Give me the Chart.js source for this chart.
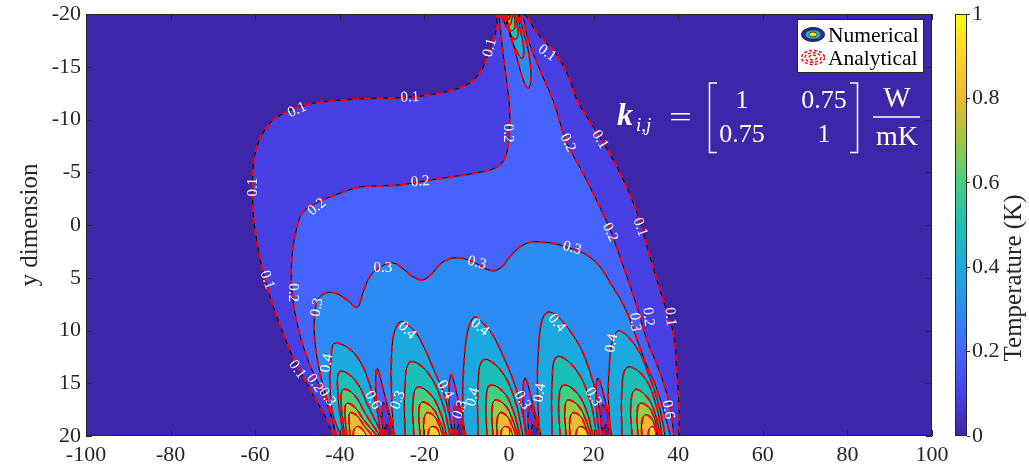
<!DOCTYPE html>
<html><head><meta charset="utf-8">
<script src="https://cdn.jsdelivr.net/npm/chart.js@4.4.1/dist/chart.umd.min.js"></script>
<style>
html,body{margin:0;padding:0;background:#fff;}
body{width:1029px;height:474px;overflow:hidden;position:relative;}
#main{position:absolute;left:0;top:0;}
#cb{position:absolute;left:940px;top:0;}
#over{position:absolute;left:0;top:0;pointer-events:none;}
</style></head><body>
<canvas id="main" width="1029" height="474"></canvas>
<canvas id="cb" width="89" height="474"></canvas>
<svg id="over" width="1029" height="474" font-family="Liberation Serif">
  <rect x="797.5" y="19.5" width="126" height="53" fill="#fff" stroke="#262626" stroke-width="1"/>
  <ellipse cx="813" cy="34.5" rx="11.5" ry="7" fill="#3E26A8" stroke="#000" stroke-width="0.8"/>
  <ellipse cx="813" cy="34.5" rx="8" ry="4.8" fill="#1DB4C8" stroke="#000" stroke-width="0.6"/>
  <ellipse cx="813" cy="34.5" rx="4" ry="2.4" fill="#F9E020" stroke="#000" stroke-width="0.6"/>
  <g fill="none" stroke="#ff0000" stroke-width="1.4" stroke-dasharray="3 2">
    <ellipse cx="813" cy="57.5" rx="11.5" ry="7"/>
    <ellipse cx="813" cy="57.5" rx="8" ry="4.8"/>
    <ellipse cx="813" cy="57.5" rx="4" ry="2.4"/>
  </g>
  <text x="828" y="42" font-size="21.5" fill="#000">Numerical</text>
  <text x="828" y="65" font-size="21.5" fill="#000">Analytical</text>
  <g fill="#fff">
    <text x="617" y="125" font-size="32" font-weight="bold" font-style="italic">k</text>
    <text x="636" y="131" font-size="19" font-style="italic">i,j</text>
    <text x="669" y="126" font-size="27" textLength="23" lengthAdjust="spacingAndGlyphs">=</text>
    <text x="742" y="108" text-anchor="middle" font-size="26">1</text>
    <text x="824" y="108" text-anchor="middle" font-size="26">0.75</text>
    <text x="742" y="142" text-anchor="middle" font-size="26">0.75</text>
    <text x="824" y="142" text-anchor="middle" font-size="26">1</text>
    <text x="897" y="107" text-anchor="middle" font-size="29">W</text>
    <text x="897" y="145" text-anchor="middle" font-size="28">mK</text>
  </g>
  <path d="M717,83 H709.5 V152.5 H717 M850,83 H857.5 V152.5 H850" stroke="#fff" stroke-width="1.5" fill="none"/>
  <line x1="873" y1="117" x2="920" y2="117" stroke="#fff" stroke-width="1.3"/>
  <text transform="translate(1021,278) rotate(-90)" text-anchor="middle" font-size="25" fill="#262626">Temperature (K)</text>
</svg>
<script>
// ---------- axes / ticks ----------
const xTickValues = [-100,-80,-60,-40,-20,0,20,40,60,80,100];
const yTickValues = [-20,-15,-10,-5,0,5,10,15,20];
const colorbarTicks = [0,0.2,0.4,0.6,0.8,1];
const contourLevels = [0,0.1,0.2,0.3,0.4,0.5,0.6,0.7,0.8,0.9];
const levelColors = ['#3E26A8','#4741E5','#4563FD','#2D8CF3','#1CA9DF','#19BFB6','#4ACB84','#9DC943','#F0BA36','#FAD62D'];
const parulaStops = ['#3E26A8','#4743E6','#4466FD','#2D8CF3','#1BAADE','#1EC0B2','#48CB86','#9FC841','#EABA30','#FAD42E','#F9FB14'];

// ---------- iso-contours (x, y) ----------
const iso01 = [[-41.6,20],[-43.0,18.5],[-47.0,15.6],[-51.1,12.5],[-53.4,10.2],[-56.0,7.4],[-58.4,4.0],[-60.0,0.5],[-60.5,-1.4],[-60.5,-5.2],[-59.6,-7.4],[-57.2,-9.3],[-54.1,-10.4],[-47.8,-11.4],[-40.7,-11.8],[-32.2,-12.0],[-24.1,-12.1],[-16.3,-12.5],[-9.9,-13.3],[-6.9,-14.4],[-5.2,-15.9],[-4.0,-17.3],[-2.8,-18.8],[-2.6,-20],[3.3,-20],[6.6,-18.2],[10.9,-16.3],[13.9,-14.2],[16.1,-11.8],[19.9,-9.3],[25.5,-5.5],[30.3,-1.1],[33.3,3.0],[36.4,7.1],[38.8,10.2],[39.7,14.0],[40.2,17.5],[40.2,20]];
const iso02 = [[-40.9,20],[-42.3,17.8],[-44.7,15.4],[-47.8,12.5],[-50.1,9.3],[-51.3,6.2],[-51.3,3.0],[-50.1,0.2],[-48.7,-1.2],[-45.4,-2.1],[-40.0,-3.0],[-35.2,-3.6],[-30.5,-3.7],[-25.8,-3.8],[-21.0,-4.1],[-14.7,-4.5],[-6.9,-5.0],[-2.8,-5.5],[-0.9,-6.4],[0,-8.3],[0.2,-10.2],[-0.2,-12.5],[-0.9,-14.7],[-1.7,-17.3],[-2.1,-19.1],[-2.1,-20],[2.6,-20],[4.5,-17.6],[7.3,-14.7],[10.4,-11.8],[13.7,-7.8],[17.5,-4.9],[23.2,-0.2],[26.2,3.0],[30.3,7.8],[32.6,10.9],[35.7,14.0],[38.1,17.3],[39.0,20]];
const iso03 = [[-40.7,20],[-41.4,19.0],[-43.0,16.6],[-44.7,14.0],[-45.9,10.9],[-45.9,8.3],[-44.7,6.8],[-41.6,6.4],[-38.3,7.1],[-35.9,7.8],[-34.5,6.4],[-32.9,4.9],[-30.5,4.0],[-27.4,3.6],[-24.6,4.3],[-22.7,4.9],[-20.3,5.2],[-18.0,4.5],[-15.6,3.5],[-12.3,3.1],[-8.5,3.5],[-4.5,4.3],[-2.1,4.1],[0.9,2.7],[3.8,1.8],[7.3,1.6],[13.7,2.1],[19.9,3.3],[24.6,5.9],[27.9,8.3],[30.3,10.9],[32.6,13.3],[35.0,15.6],[37.4,18.8],[38.1,20]];

// top heat source
const top03 = [[-0.9,-20],[0.7,-17.6],[2.1,-15.5],[3.8,-13.3],[4.7,-13.0],[5.2,-14.2],[4.5,-16.6],[3.1,-18.8],[2.4,-20]];
const top04 = [[-0.5,-20],[0.2,-18.0],[1.9,-16.4],[3.1,-15.8],[3.5,-16.7],[2.6,-18.7],[2.1,-20]];
const top05 = [[-1.0,-20],[-0.2,-18.6],[1.2,-17.6],[2.1,-17.9],[1.9,-19.1],[1.6,-20]];
const top06 = [[-1.4,-20],[-0.9,-19.0],[0.5,-18.4],[1.4,-18.8],[1.2,-20]];
const top07 = [[-1.9,-20],[-1.2,-19.3],[0.2,-19.0],[0.9,-20]];
const top08 = [[-2.1,-20],[-1.4,-19.6],[-0.2,-19.5],[0.5,-20]];
const top09 = [[-1.9,-20],[-1.2,-19.8],[-0.2,-19.8],[0.0,-20]];

// bottom heat sources (lobes 0.4 ... 0.9)
const s1_04 = [[-39.7,20],[-41.6,18.0],[-42.3,15.2],[-42.1,12.8],[-41.1,11.2],[-35.9,12.5],[-31.7,16.6],[-28.8,20]];
const s1_05 = [[-39.2,20],[-40.4,16.1],[-40.0,13.9],[-36.4,14.7],[-32.9,17.5],[-29.8,20]];
const s1_06 = [[-38.8,20],[-39.7,16.8],[-39.2,15.6],[-36.6,16.1],[-33.8,18.0],[-30.5,20]];
const s1_07 = [[-38.3,20],[-38.8,17.7],[-38.3,16.9],[-36.4,17.3],[-34.3,18.5],[-31.2,20]];
const s1_08 = [[-37.6,20],[-37.8,18.6],[-37.6,17.8],[-35.9,18.1],[-34.3,19.0],[-32.2,20]];
const s1_09 = [[-36.9,20],[-36.6,19.4],[-35.9,19.1],[-34.8,19.3],[-33.6,20]];

const s2_04 = [[-27.4,20],[-27.7,11.8],[-25.8,9.2],[-22.5,10.0],[-20.1,11.6],[-17.7,13.8],[-15.4,16.0],[-13.0,20]];
const s2_05 = [[-24.6,20],[-24.6,15.4],[-23.4,13.0],[-19.4,13.9],[-15.8,16.8],[-13.9,20]];
const s2_06 = [[-22.5,20],[-22.7,16.8],[-21.7,15.4],[-18.7,16.0],[-16.3,17.7],[-14.7,20]];
const s2_07 = [[-21.0,20],[-21.3,17.7],[-20.6,16.8],[-18.2,17.3],[-16.5,18.5],[-15.1,20]];
const s2_08 = [[-20.1,20],[-20.1,18.5],[-19.4,17.8],[-17.7,18.1],[-16.5,19.0],[-15.6,20]];
const s2_09 = [[-19.1,20],[-18.9,19.4],[-18.2,19.1],[-17.0,19.3],[-16.3,20]];

const s3_04 = [[-10.9,20],[-10.6,12.8],[-8.5,8.8],[-5.2,9.7],[-2.8,11.2],[1.9,15.8],[4.3,20]];
const s3_05 = [[-7.3,20],[-7.3,15.2],[-6.1,12.8],[-2.1,13.7],[1.4,16.6],[3.3,20]];
const s3_06 = [[-5.2,20],[-5.4,16.6],[-4.5,15.2],[-1.4,15.8],[0.9,17.5],[2.6,20]];
const s3_07 = [[-3.8,20],[-4.0,17.5],[-3.3,16.6],[-0.9,17.1],[0.7,18.3],[2.1,20]];
const s3_08 = [[-2.8,20],[-2.8,18.5],[-2.1,17.8],[-0.5,18.1],[0.7,19.0],[1.7,20]];
const s3_09 = [[-1.9,20],[-1.7,19.4],[-0.9,19.1],[0.2,19.3],[0.9,20]];

const s4_04 = [[7.1,20],[6.9,12.3],[9.0,8.3],[14.9,10.3],[19.6,14.5],[22.5,20]];
const s4_05 = [[10.2,20],[10.2,14.9],[11.3,12.5],[15.4,13.5],[18.9,16.3],[20.8,20]];
const s4_06 = [[12.1,20],[11.8,16.6],[12.8,15.2],[15.8,15.8],[18.2,17.5],[19.9,20]];
const s4_07 = [[13.5,20],[13.2,17.5],[13.9,16.6],[16.3,17.1],[18.0,18.3],[19.4,20]];
const s4_08 = [[14.4,20],[14.4,18.5],[15.1,17.8],[16.8,18.1],[18.0,19.0],[18.9,20]];
const s4_09 = [[15.8,20],[16.1,19.4],[16.8,19.1],[18.0,19.3],[18.7,20]];

const s5_04 = [[23.9,20],[23.6,14.2],[25.5,10.1],[29.8,11.4],[33.3,14.5],[35.7,17.5],[36.9,20]];
const s5_05 = [[26.7,20],[26.7,15.8],[27.9,13.5],[31.9,14.4],[34.8,17.1],[36.2,20]];
const s5_06 = [[29.1,20],[28.8,17.1],[29.8,15.6],[32.6,16.3],[34.5,17.8],[35.7,20]];
const s5_07 = [[30.5,20],[30.3,17.8],[31.0,16.9],[33.1,17.3],[34.5,18.5],[35.2,20]];
const s5_08 = [[31.4,20],[31.4,18.7],[32.2,18.0],[33.6,18.3],[34.5,19.1],[35.0,20]];
const s5_09 = [[32.9,20],[33.1,19.4],[33.8,19.1],[34.5,19.3],[34.8,20]];

// cold valleys between the bottom sources (below 0.3 / 0.2 / 0.1)
const v03_1 = [[-30.3,20],[-31.4,16.4],[-31.2,13.6],[-29.6,15.8],[-27.0,20]];
const v02_1 = [[-29.8,20],[-30.0,17.7],[-29.6,16.8],[-28.4,18.0],[-27.4,20]];
const v01_1 = [[-29.3,20],[-29.1,19.1],[-28.6,18.8],[-27.9,19.2],[-27.7,20]];
const v03_2 = [[-13.5,20],[-14.2,16.6],[-13.7,14.2],[-12.1,16.4],[-10.2,20]];
const v02_2 = [[-12.8,20],[-13.0,17.7],[-12.5,16.9],[-11.3,18.1],[-10.6,20]];
const v01_2 = [[-12.3,20],[-12.1,19.1],[-11.6,18.8],[-11.1,19.2],[-10.9,20]];
const v03_3 = [[4.0,20],[3.3,16.8],[3.8,14.5],[5.4,16.6],[7.6,20]];
const v02_3 = [[4.7,20],[4.5,18.0],[5.0,17.0],[6.1,18.2],[7.1,20]];
const v01_3 = [[5.2,20],[5.4,19.1],[5.9,18.8],[6.6,19.2],[6.9,20]];
const v03_4 = [[21.3,20],[20.6,16.8],[21.0,14.5],[22.7,16.6],[24.3,20]];
const v02_4 = [[22.0,20],[21.7,18.0],[22.2,17.0],[23.4,18.2],[23.9,20]];
const v01_4 = [[22.5,20],[22.7,19.1],[23.2,18.8],[23.6,19.2],[23.8,20]];

// contour labels: x, y, angle (deg), text
const contourLabels = [
 [-23.4,-12.1,-3,'0.1'],[-50.1,-10.9,-25,'0.1'],[-60.5,-3.6,-90,'0.1'],[-57.2,5.2,70,'0.1'],[-50.1,13.7,55,'0.1'],
 [-21.0,-4.1,-5,'0.2'],[-45.4,-1.7,-40,'0.2'],[-51.1,6.4,90,'0.2'],[-45.9,15.0,55,'0.2'],
 [-29.8,4.1,0,'0.3'],[-7.6,3.6,15,'0.3'],[-45.4,7.8,-80,'0.3'],[14.9,2.2,15,'0.3'],[-43.0,16.3,55,'0.3'],
 [-24.1,10.0,45,'0.4'],[-6.9,9.7,40,'0.4'],[11.3,9.3,50,'0.4'],[24.3,11.2,-80,'0.4'],[-43.0,13.1,-80,'0.4'],
 [-0.2,-8.7,90,'0.2'],[13.9,-7.8,65,'0.2'],[23.9,0.7,65,'0.2'],[21.5,-8.1,60,'0.1'],[31.0,0.2,70,'0.1'],
 [38.1,8.7,85,'0.1'],[29.8,9.2,85,'0.3'],[32.9,8.7,85,'0.2'],[-4.5,-16.8,-75,'0.1'],[9.0,-16.3,35,'0.1'],
 [-32.2,16.6,60,'0.6'],[-26.2,16.6,-70,'0.3'],[-15.1,15.6,60,'0.4'],[-11.6,17.5,-70,'0.3'],[-8.5,16.3,-75,'0.4'],
 [3.1,16.6,60,'0.3'],[7.3,15.9,-80,'0.4'],[19.9,16.3,60,'0.3'],[37.6,17.5,80,'0.6']
];

// ---------- build datasets: [contour, colour index of the band inside] ----------
const regions = [
 [iso01,1],[iso02,2],[iso03,3],
 [top03,3],[top04,4],[top05,5],[top06,6],[top07,7],[top08,8],[top09,9],
 [s1_04,4],[s1_05,5],[s1_06,6],[s1_07,7],[s1_08,8],[s1_09,9],
 [s2_04,4],[s2_05,5],[s2_06,6],[s2_07,7],[s2_08,8],[s2_09,9],
 [s3_04,4],[s3_05,5],[s3_06,6],[s3_07,7],[s3_08,8],[s3_09,9],
 [s4_04,4],[s4_05,5],[s4_06,6],[s4_07,7],[s4_08,8],[s4_09,9],
 [s5_04,4],[s5_05,5],[s5_06,6],[s5_07,7],[s5_08,8],[s5_09,9],
 [v03_1,2],[v03_2,2],[v03_3,2],[v03_4,2],
 [v02_1,1],[v02_2,1],[v02_3,1],[v02_4,1],
 [v01_1,0],[v01_2,0],[v01_3,0],[v01_4,0]
];
const toPts = a => a.map(([x,y]) => ({x, y}));
const common = {pointRadius:0, pointHitRadius:0, tension:0.4, clip:0, showLine:true};
const fills = regions.map(([a,c]) => Object.assign({}, common, {data:toPts(a), fill:'shape', backgroundColor:levelColors[c], borderColor:'transparent', borderWidth:0}));
const blacks = regions.map(([a]) => Object.assign({}, common, {data:toPts(a), fill:false, borderColor:'#000', borderWidth:1}));
const reds = regions.map(([a]) => Object.assign({}, common, {data:toPts(a), fill:false, borderColor:'#ff0000', borderWidth:2, borderDash:[7,5]}));
const allSets = [...fills, ...blacks, ...reds];
allSets.forEach((d,i) => { d.order = allSets.length - i; });

const FONT = 'Liberation Serif';
const AXC = '#262626';

const bgPlugin = {
  id:'bg',
  beforeDatasetsDraw(chart){
    const {ctx, chartArea:a} = chart;
    ctx.save(); ctx.fillStyle = levelColors[0];
    ctx.fillRect(a.left, a.top, a.right-a.left, a.bottom-a.top); ctx.restore();
  }
};
const overPlugin = {
  id:'over',
  afterDraw(chart){
    const {ctx, chartArea:a, scales:{x, y}} = chart;
    ctx.save();
    ctx.beginPath(); ctx.rect(a.left, a.top, a.right-a.left, a.bottom-a.top); ctx.clip();
    ctx.fillStyle = '#fff'; ctx.font = '15px "'+FONT+'"'; ctx.textAlign='center'; ctx.textBaseline='middle';
    for (const [lx, ly, ang, t] of contourLabels){
      ctx.save(); ctx.translate(x.getPixelForValue(lx), y.getPixelForValue(ly));
      ctx.rotate(ang*Math.PI/180); ctx.fillText(t, 0, 0); ctx.restore();
    }
    ctx.restore();
    ctx.save();
    ctx.strokeStyle = AXC; ctx.lineWidth = 1;
    ctx.strokeRect(a.left+0.5, a.top+0.5, a.right-a.left-1, a.bottom-a.top-1);
    ctx.beginPath();
    for (const v of xTickValues){ const p = Math.round(x.getPixelForValue(v))+0.5;
      ctx.moveTo(p, a.bottom); ctx.lineTo(p, a.bottom-6); ctx.moveTo(p, a.top); ctx.lineTo(p, a.top+6); }
    for (const v of yTickValues){ const p = Math.round(y.getPixelForValue(v))+0.5;
      ctx.moveTo(a.left, p); ctx.lineTo(a.left+6, p); ctx.moveTo(a.right, p); ctx.lineTo(a.right-6, p); }
    ctx.stroke(); ctx.restore();
  }
};

new Chart(document.getElementById('main'), {
  type:'line',
  data:{datasets:allSets},
  options:{
    responsive:false, animation:false, events:[], devicePixelRatio:1,
    layout:{padding:{left:0, top:14, right:97, bottom:0}},
    plugins:{legend:{display:false}, tooltip:{enabled:false}},
    scales:{
      x:{type:'linear', min:-100, max:100, z:1,
         afterBuildTicks:s => { s.ticks = xTickValues.map(v => ({value:v})); },
         afterFit:s => { s.height = 38; s.paddingLeft = 0; s.paddingRight = 0; },
         ticks:{autoSkip:false, maxRotation:0, color:AXC, padding:6, font:{family:FONT, size:22}},
         grid:{color:'rgba(255,255,255,0.65)', lineWidth:1, drawTicks:false},
         border:{display:false, dash:[1.5,2.5]}},
      y:{type:'linear', min:-20, max:20, reverse:true, z:1,
         afterBuildTicks:s => { s.ticks = yTickValues.map(v => ({value:v})); },
         afterFit:s => { s.width = 86; s.paddingTop = 0; s.paddingBottom = 0; },
         ticks:{autoSkip:false, color:AXC, padding:5, font:{family:FONT, size:22}},
         grid:{color:'rgba(255,255,255,0.65)', lineWidth:1, drawTicks:false},
         border:{display:false, dash:[1.5,2.5]},
         title:{display:true, text:'y dimension', color:AXC, font:{family:FONT, size:25}, padding:{top:15, bottom:0}}}
    }
  },
  plugins:[bgPlugin, overPlugin]
});

// ---------- colour bar ----------
const cbPlugin = {
  id:'cbar',
  beforeDatasetsDraw(chart){
    const {ctx, chartArea:a} = chart;
    const g = ctx.createLinearGradient(0, a.bottom, 0, a.top);
    parulaStops.forEach((c,i) => g.addColorStop(i/(parulaStops.length-1), c));
    ctx.save(); ctx.fillStyle = g; ctx.fillRect(a.left, a.top, a.right-a.left, a.bottom-a.top); ctx.restore();
  },
  afterDraw(chart){
    const {ctx, chartArea:a} = chart;
    ctx.save(); ctx.strokeStyle = AXC; ctx.lineWidth = 1;
    ctx.strokeRect(a.left+0.5, a.top+0.5, a.right-a.left-1, a.bottom-a.top-1); ctx.restore();
  }
};
new Chart(document.getElementById('cb'), {
  type:'line',
  data:{datasets:[]},
  options:{
    responsive:false, animation:false, events:[], devicePixelRatio:1,
    layout:{padding:{left:15, top:14, right:0, bottom:38}},
    plugins:{legend:{display:false}, tooltip:{enabled:false}},
    scales:{
      x:{type:'linear', display:false, min:0, max:1},
      y:{type:'linear', position:'right', min:0, max:1,
         afterBuildTicks:s => { s.ticks = colorbarTicks.map(v => ({value:v})); },
         afterFit:s => { s.width = 62; s.paddingTop = 0; s.paddingBottom = 0; },
         ticks:{color:AXC, padding:2, font:{family:FONT, size:22}, callback:v => String(Math.round(v*10)/10)},
         grid:{drawOnChartArea:false, drawTicks:true, tickLength:3, color:AXC},
         border:{display:false}}
    }
  },
  plugins:[cbPlugin]
});
</script>
</body></html>
